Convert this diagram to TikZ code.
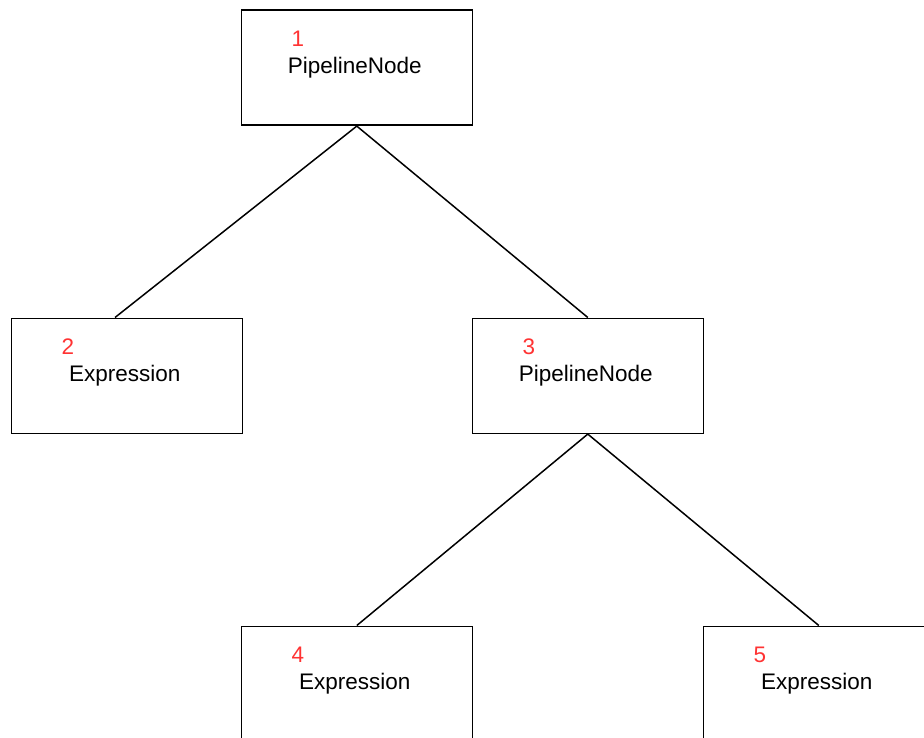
\documentclass[tikz,border=0pt]{standalone}
\usepackage{fontspec}
\setmainfont{Liberation Sans}
\definecolor{numred}{HTML}{FF3333}
\begin{document}
\begin{tikzpicture}[x=1pt,y=-1pt,
  treebox/.style={draw=black, line width=1.6pt, fill=white, anchor=north west,
    minimum width=231pt, minimum height=115pt, inner sep=0pt},
  boxtext/.style={inner sep=0pt, font=\fontsize{22.5}{26}\selectfont},
  idnum/.style={anchor=base west, inner sep=0pt, text=numred,
    font=\fontsize{22.5}{26}\selectfont},
  edge/.style={line width=1.5pt}]
  \useasboundingbox (0,0) rectangle (924,738);
  \clip (0,0) rectangle (924,738);
  \fill[white] (0,0) rectangle (924,738);

  % boxes of the tree
  \coordinate (c2) at (115,317.5);
  \node[treebox] (n1) at (240.5,9.5) {};
  \node[treebox] (n2) at (10.5,317.5) {};
  \node[treebox] (n3) at (471.5,317.5) {};
  \node[treebox] (n4) at (240.5,625.5) {};
  \node[treebox] (n5) at (702.5,625.5) {};

  % connectors
  \draw[edge] (n1.south) -- (c2);
  \draw[edge] (n1.south) -- (n3.north);
  \draw[edge] (n3.south) -- (n4.north);
  \draw[edge] (n3.south) -- (n5.north);

  % type names
  \foreach \n/\t in {n1/PipelineNode, n2/Expression, n3/PipelineNode,
                     n4/Expression, n5/Expression}
    \node[boxtext] (t\n) at ([xshift=-2pt]\n.center) {\t};

  % node ids
  \foreach \n/\t in {n1/1, n2/2, n3/3, n4/4, n5/5}
    \node[idnum] (id\n) at ([xshift=51pt,yshift=-37pt]\n.north west) {\t};
\end{tikzpicture}
\end{document}
